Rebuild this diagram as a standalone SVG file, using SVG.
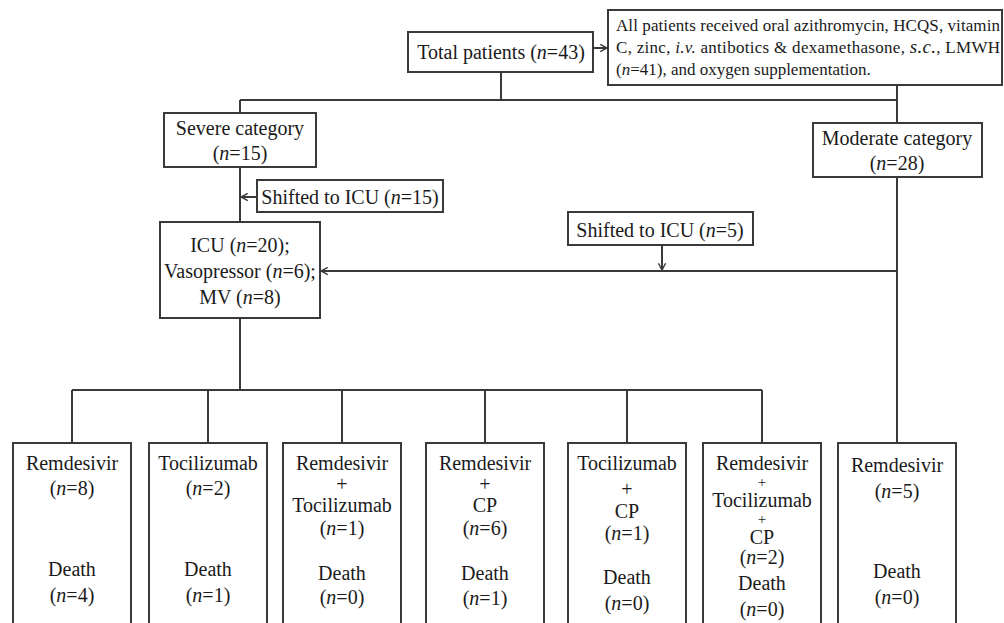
<svg xmlns="http://www.w3.org/2000/svg" width="1004" height="623" viewBox="0 0 1004 623">
<style>
.box{fill:#fff;stroke:#3a3a3a;stroke-width:2}
.ln{fill:none;stroke:#3a3a3a;stroke-width:2}
text{font-family:"Liberation Serif","Times New Roman",serif;font-size:20px;fill:#1a1a1a;text-anchor:middle}
.i{font-style:italic}
.sm{font-size:17px;text-anchor:start}
.pl{font-size:15px}
</style>
<defs>
<marker id="ah" viewBox="0 0 10 10" refX="9.5" refY="5" markerWidth="9" markerHeight="9" markerUnits="userSpaceOnUse" orient="auto">
<path d="M2,1 L9.5,5 L2,9" fill="none" stroke="#3a3a3a" stroke-width="1.6"/>
</marker>
</defs>
<g id="connectors">
<line class="ln" x1="593" y1="48" x2="607" y2="48" marker-end="url(#ah)"/>
<line class="ln" x1="501" y1="72" x2="501" y2="100"/>
<line class="ln" x1="240" y1="100" x2="897" y2="100"/>
<line class="ln" x1="897" y1="85" x2="897" y2="123"/>
<line class="ln" x1="240" y1="100" x2="240" y2="113"/>
<line class="ln" x1="240" y1="167" x2="240" y2="222"/>
<line class="ln" x1="257" y1="197" x2="241" y2="197" marker-end="url(#ah)"/>
<line class="ln" x1="662" y1="245" x2="662" y2="270" marker-end="url(#ah)"/>
<line class="ln" x1="897" y1="177" x2="897" y2="443"/>
<line class="ln" x1="897" y1="271" x2="321" y2="271" marker-end="url(#ah)"/>
<line class="ln" x1="240" y1="318" x2="240" y2="390"/>
<line class="ln" x1="72" y1="390" x2="762" y2="390"/>
<line class="ln" x1="72" y1="390" x2="72" y2="443"/>
<line class="ln" x1="208" y1="390" x2="208" y2="443"/>
<line class="ln" x1="342" y1="390" x2="342" y2="443"/>
<line class="ln" x1="485" y1="390" x2="485" y2="443"/>
<line class="ln" x1="627" y1="390" x2="627" y2="443"/>
<line class="ln" x1="762" y1="390" x2="762" y2="443"/>
</g>
<g id="total">
<rect class="box" x="408" y="32" width="185" height="40"/>
<text x="501" y="59">Total patients (<tspan class="i">n</tspan>=43)</text>
</g>
<g id="info">
<rect class="box" x="608" y="10" width="394" height="75"/>
<text class="sm" x="616" y="31" textLength="384" lengthAdjust="spacing">All patients received oral azithromycin, HCQS, vitamin</text>
<text class="sm" x="616" y="53" textLength="384" lengthAdjust="spacing">C, zinc, <tspan class="i">i.v.</tspan> antibotics &amp; dexamethasone, <tspan class="i" style="font-size:19px">s.c.</tspan>, LMWH</text>
<text class="sm" x="616" y="75">(<tspan class="i">n</tspan>=41), and oxygen supplementation.</text>
</g>
<g id="severe">
<rect class="box" x="164" y="113" width="152" height="54"/>
<text x="240" y="135">Severe category</text>
<text x="240" y="160">(<tspan class="i">n</tspan>=15)</text>
</g>
<g id="moderate">
<rect class="box" x="813" y="123" width="169" height="54"/>
<text x="897" y="145">Moderate category</text>
<text x="897" y="170">(<tspan class="i">n</tspan>=28)</text>
</g>
<g id="shift15">
<rect class="box" x="257" y="180" width="186" height="32"/>
<text x="350" y="204">Shifted to ICU (<tspan class="i">n</tspan>=15)</text>
</g>
<g id="shift5">
<rect class="box" x="568" y="212" width="185" height="33"/>
<text x="660" y="237">Shifted to ICU (<tspan class="i">n</tspan>=5)</text>
</g>
<g id="icu">
<rect class="box" x="160" y="222" width="160" height="96"/>
<text x="240" y="252">ICU (<tspan class="i">n</tspan>=20);</text>
<text x="240" y="278">Vasopressor (<tspan class="i">n</tspan>=6);</text>
<text x="240" y="304">MV (<tspan class="i">n</tspan>=8)</text>
</g>
<g id="b1">
<rect class="box" x="13" y="443" width="118" height="200"/>
<text x="72" y="470">Remdesivir</text>
<text x="72" y="495">(<tspan class="i">n</tspan>=8)</text>
<text x="72" y="576">Death</text>
<text x="72" y="602">(<tspan class="i">n</tspan>=4)</text>
</g>
<g id="b2">
<rect class="box" x="149" y="443" width="118" height="200"/>
<text x="208" y="470">Tocilizumab</text>
<text x="208" y="495">(<tspan class="i">n</tspan>=2)</text>
<text x="208" y="576">Death</text>
<text x="208" y="602">(<tspan class="i">n</tspan>=1)</text>
</g>
<g id="b3">
<rect class="box" x="283" y="443" width="118" height="200"/>
<text x="342" y="470">Remdesivir</text>
<text x="342" y="491">+</text>
<text x="342" y="512">Tocilizumab</text>
<text x="342" y="535">(<tspan class="i">n</tspan>=1)</text>
<text x="342" y="580">Death</text>
<text x="342" y="604">(<tspan class="i">n</tspan>=0)</text>
</g>
<g id="b4">
<rect class="box" x="426" y="443" width="118" height="200"/>
<text x="485" y="470">Remdesivir</text>
<text x="485" y="491">+</text>
<text x="485" y="512">CP</text>
<text x="485" y="535">(<tspan class="i">n</tspan>=6)</text>
<text x="485" y="580">Death</text>
<text x="485" y="605">(<tspan class="i">n</tspan>=1)</text>
</g>
<g id="b5">
<rect class="box" x="568" y="443" width="118" height="200"/>
<text x="627" y="470">Tocilizumab</text>
<text x="627" y="496">+</text>
<text x="627" y="518">CP</text>
<text x="627" y="540">(<tspan class="i">n</tspan>=1)</text>
<text x="627" y="584">Death</text>
<text x="627" y="610">(<tspan class="i">n</tspan>=0)</text>
</g>
<g id="b6">
<rect class="box" x="703" y="443" width="118" height="200"/>
<text x="762" y="470">Remdesivir</text>
<text class="pl" x="762" y="487">+</text>
<text x="762" y="507">Tocilizumab</text>
<text class="pl" x="762" y="524">+</text>
<text x="762" y="544">CP</text>
<text x="762" y="564">(<tspan class="i">n</tspan>=2)</text>
<text x="762" y="590">Death</text>
<text x="762" y="616">(<tspan class="i">n</tspan>=0)</text>
</g>
<g id="b7">
<rect class="box" x="838" y="443" width="118" height="200"/>
<text x="897" y="472">Remdesivir</text>
<text x="897" y="498">(<tspan class="i">n</tspan>=5)</text>
<text x="897" y="578">Death</text>
<text x="897" y="604">(<tspan class="i">n</tspan>=0)</text>
</g>
</svg>
